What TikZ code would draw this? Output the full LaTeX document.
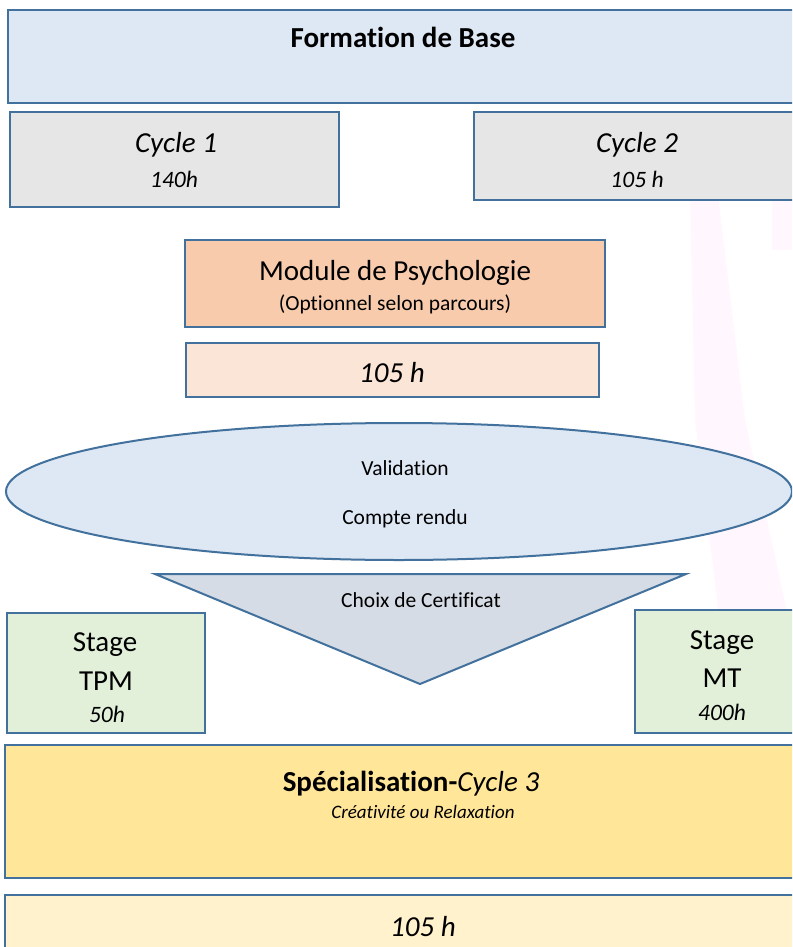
\documentclass[tikz,border=0pt]{standalone}
\usepackage{fontspec}
\setmainfont[Ligatures={NoCommon,NoContextual,NoRare}]{Carlito}
\usetikzlibrary{shapes.geometric}
\definecolor{bord}{HTML}{41719C}
\definecolor{fbase}{HTML}{DEE8F5}
\definecolor{fcycle}{HTML}{E6E6E6}
\definecolor{fmod}{HTML}{F8CBAD}
\definecolor{fmodh}{HTML}{FBE5D6}
\definecolor{fell}{HTML}{DEE8F5}
\definecolor{ftri}{HTML}{D6DCE5}
\definecolor{fstage}{HTML}{E2F0D9}
\definecolor{fspec}{HTML}{FFE699}
\definecolor{fspech}{HTML}{FFF2CC}
\definecolor{fpink}{HTML}{FFF7FD}
\begin{document}
\begin{tikzpicture}[x=1pt,y=-1pt,
  box/.style={draw=bord,line width=2pt,rectangle,inner sep=0pt},
  lbl/.style={anchor=base,inner sep=0pt},
  bigtxt/.style={font=\fontsize{29}{33}\selectfont},
  hrstxt/.style={font=\fontsize{23.5}{27}\selectfont},
  midtxt/.style={font=\fontsize{21.5}{25}\selectfont},
  smtxt/.style={font=\fontsize{19}{23}\selectfont}]
\useasboundingbox (0,0) rectangle (792,947);
\clip (0,0) rectangle (792,947);
\fill[white] (0,0) rectangle (792,947);
% faint background band
\fill[fpink] (690,195) -- (718,195) -- (745,420) -- (790,625) -- (722,640) -- (695,420) -- cycle;
\fill[fpink] (772,195) rectangle (792,250);
% Formation de Base
\node[box,fill=fbase,minimum width=800pt,minimum height=93pt] (base) at (408,56.5) {};
\node[lbl,bigtxt] (baset) at (403,48) {\bfseries Formation de Base};
% Cycles
\node[box,fill=fcycle,minimum width=329pt,minimum height=95pt] (c1) at (174.5,159.5) {};
\node[lbl,bigtxt] (c1t) at (176,153) {\itshape Cycle 1};
\node[lbl,hrstxt] (c1h) at (174,187) {\itshape 140h};
\node[box,fill=fcycle,minimum width=330pt,minimum height=88pt] (c2) at (639,156) {};
\node[lbl,bigtxt] (c2t) at (637,153) {\itshape Cycle 2};
\node[lbl,hrstxt] (c2h) at (637,187) {\itshape 105 h};
% Module
\node[box,fill=fmod,minimum width=420pt,minimum height=87pt] (mod) at (395,283.5) {};
\node[lbl,bigtxt] (modt) at (395,280) {Module de Psychologie};
\node[lbl,midtxt] (mods) at (395,310) {(Optionnel selon parcours)};
\node[box,fill=fmodh,minimum width=413pt,minimum height=54pt] (modh) at (392.5,370) {};
\node[lbl,bigtxt] (modht) at (392,382) {\itshape 105 h};
% Ellipse
\node[ellipse,draw=bord,line width=2pt,fill=fell,minimum width=786pt,minimum height=137pt,inner sep=0pt] (ell) at (399,491.5) {};
\node[lbl,midtxt] (val) at (405,475) {Validation};
\node[lbl,midtxt] (cr) at (405,524) {Compte rendu};
% Triangle
\coordinate (tA) at (155,574);
\coordinate (tB) at (686,574);
\coordinate (tC) at (420,684);
\draw[draw=bord,line width=2pt,fill=ftri,line join=miter] (tA) -- (tB) -- (tC) -- cycle;
\node[lbl,midtxt] (choix) at (421,607) {Choix de Certificat};
% Stages
\node[box,fill=fstage,minimum width=198pt,minimum height=120pt] (tpm) at (106,673) {};
\node[lbl,bigtxt] (tpm1) at (105,651.5) {Stage};
\node[lbl,bigtxt] (tpm2) at (106,690) {TPM};
\node[lbl,hrstxt] (tpm3) at (107,722) {\itshape 50h};
\node[box,fill=fstage,minimum width=170pt,minimum height=123pt] (mt) at (720,671.5) {};
\node[lbl,bigtxt] (mt1) at (722,649) {Stage};
\node[lbl,bigtxt] (mt2) at (722,687.5) {MT};
\node[lbl,hrstxt] (mt3) at (722,720) {\itshape 400h};
% Specialisation
\node[box,fill=fspec,minimum width=800pt,minimum height=133pt] (spec) at (405,811.5) {};
\node[lbl,bigtxt] (spect) at (411,791) {{\bfseries Spécialisation-}{\itshape Cycle 3}};
\node[lbl,smtxt] (specs) at (423,818) {\itshape Créativité ou Relaxation};
\node[box,fill=fspech,minimum width=800pt,minimum height=70pt] (spech) at (405,930) {};
\node[lbl,bigtxt] (specht) at (423,936) {\itshape 105 h};
\end{tikzpicture}
\end{document}
